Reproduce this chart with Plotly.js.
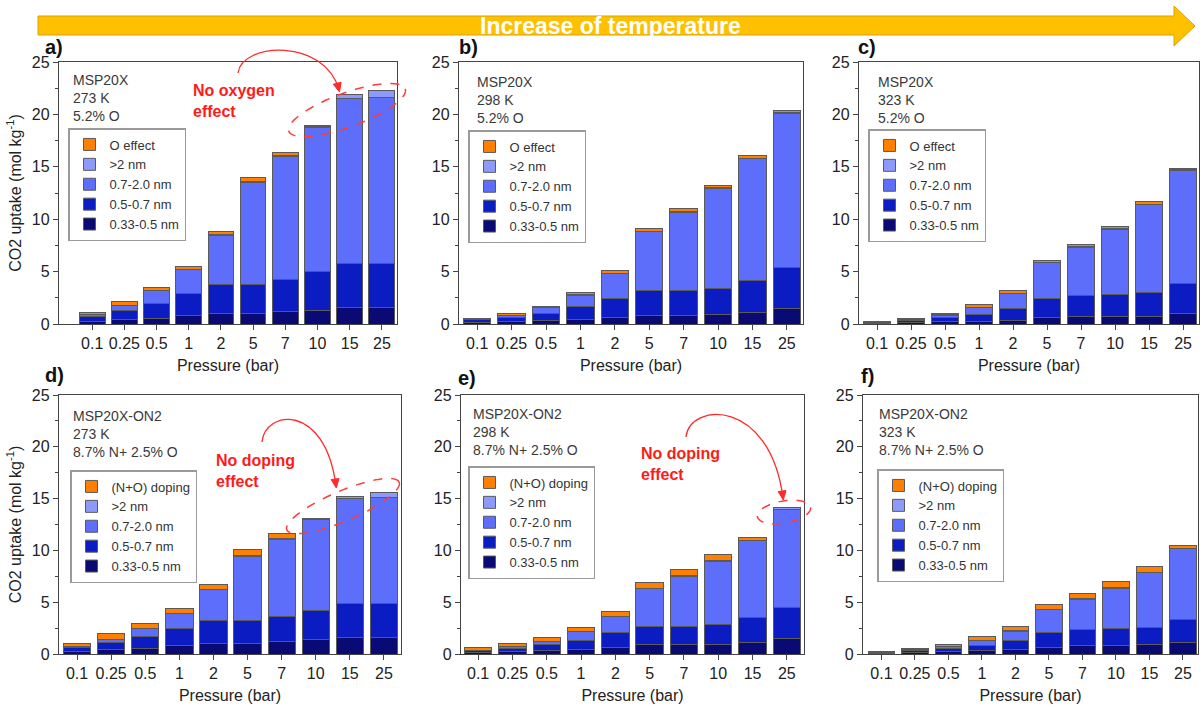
<!DOCTYPE html>
<html>
<head>
<meta charset="utf-8">
<script src="https://cdn.plot.ly/plotly-3.0.1.min.js"></script>
<style>html,body{margin:0;padding:0;background:#fff;}#chart{width:1200px;height:707px;}</style>
</head>
<body>
<div id="chart"></div>
<script>
// ---------- DATA ----------
const pressures = ['0.1','0.25','0.5','1','2','5','7','10','15','25'];
const seriesNames = ['0.33-0.5 nm','0.5-0.7 nm','0.7-2.0 nm','>2 nm'];
const effectNameTop = 'O effect';
const effectNameBottom = '(N+O) doping';

// a) MSP20X 273 K
const a033 = [0.25,0.45,0.54,0.77,0.96,0.96,1.15,1.31,1.53,1.53];
const a057 = [0.45,0.83,1.38,2.11,2.84,2.84,3.13,3.71,4.22,4.22];
const a072 = [0.20,0.48,1.25,2.30,4.64,9.75,11.67,13.75,15.80,15.85];
const aGt2 = [0.02,0.04,0.03,0.03,0.06,0.05,0.10,0.10,0.35,0.68];
const aEff = [0.17,0.31,0.28,0.29,0.29,0.37,0.29,0.06,0,0];
// b) MSP20X 298 K
const b033 = [0.12,0.26,0.32,0.45,0.64,0.83,0.83,0.90,1.09,1.44];
const b057 = [0.28,0.32,0.67,1.18,1.76,2.34,2.34,2.53,3.10,3.91];
const b072 = [0.03,0.25,0.58,1.12,2.43,5.66,7.49,9.53,11.59,14.75];
const bGt2 = [0.01,0.01,0.01,0.02,0.02,0.03,0.03,0.03,0.05,0.10];
const bEff = [0.07,0.12,0.12,0.21,0.21,0.26,0.29,0.23,0.27,0.13];
// c) MSP20X 323 K
const c033 = [0.08,0.15,0.20,0.25,0.38,0.64,0.70,0.70,0.73,0.96];
const c057 = [0.06,0.20,0.45,0.61,1.12,1.78,2.01,2.10,2.23,2.89];
const c072 = [0.02,0.08,0.20,0.73,1.37,3.41,4.61,6.24,8.41,10.80];
const cGt2 = [0.01,0.01,0.01,0.02,0.02,0.02,0.03,0.03,0.03,0.05];
const cEff = [0.05,0.07,0.16,0.21,0.26,0.20,0.26,0.23,0.26,0.17];
// d) MSP20X-ON2 273 K
const d033 = [0.20,0.39,0.55,0.78,1.03,1.03,1.20,1.39,1.62,1.62];
const d057 = [0.45,0.71,1.10,1.68,2.17,2.17,2.42,2.81,3.23,3.23];
const d072 = [0.08,0.32,0.81,1.42,2.98,6.24,7.47,8.74,10.19,10.22];
const dGt2 = [0.01,0.02,0.02,0.03,0.05,0.05,0.08,0.16,0.19,0.49];
const dEff = [0.29,0.50,0.50,0.52,0.50,0.63,0.44,0,0,0];
// e) MSP20X-ON2 298 K
const e033 = [0.12,0.20,0.32,0.45,0.64,0.87,0.87,0.90,1.09,1.51];
const e057 = [0.18,0.35,0.55,0.90,1.39,1.80,1.80,1.96,2.41,2.99];
const e072 = [0.05,0.15,0.32,0.79,1.55,3.61,4.81,6.08,7.42,9.48];
const eGt2 = [0.01,0.01,0.02,0.02,0.03,0.04,0.05,0.06,0.05,0.14];
const eEff = [0.22,0.26,0.40,0.41,0.51,0.63,0.61,0.65,0.29,0];
// f) MSP20X-ON2 323 K
const f033 = [0.06,0.12,0.22,0.32,0.42,0.64,0.80,0.80,0.90,1.09];
const f057 = [0.07,0.20,0.28,0.48,0.92,1.44,1.53,1.63,1.66,2.27];
const f072 = [0.03,0.07,0.24,0.46,0.88,2.20,2.96,3.91,5.29,6.82];
const fGt2 = [0.01,0.01,0.01,0.02,0.02,0.04,0.05,0.05,0.05,0.05];
const fEff = [0.09,0.14,0.21,0.38,0.41,0.48,0.51,0.64,0.57,0.26];

const panelLabels = ['a)','b)','c)','d)','e)','f)'];
const panelTexts = [
  'MSP20X<br>273 K<br>5.2% O',
  'MSP20X<br>298 K<br>5.2% O',
  'MSP20X<br>323 K<br>5.2% O',
  'MSP20X-ON2<br>273 K<br>8.7% N+ 2.5% O',
  'MSP20X-ON2<br>298 K<br>8.7% N+ 2.5% O',
  'MSP20X-ON2<br>323 K<br>8.7% N+ 2.5% O'
];

// ---------- STYLE / LAYOUT ----------
const W = 1200, H = 707;
const FONT = 'Liberation Sans, Arial, sans-serif';
const colors = ['#0a0a74','#0a1cc2','#5d6efa','#8e9afb','#ff8000'];
const px = x => x / W;
const py = y => 1 - y / H;

const panels = [
  {d:[a033,a057,a072,aGt2,aEff], eff:effectNameTop,    xd:[59,397],  yd:[62,324],  xr:[-1.03,9.47], leg:[68,128],  txt:[71,70],  lab:[54,47]},
  {d:[b033,b057,b072,bGt2,bEff], eff:effectNameTop,    xd:[459,803], yd:[62,324],  xr:[-0.53,9.47], leg:[468,130], txt:[475,72], lab:[468,47]},
  {d:[c033,c057,c072,cGt2,cEff], eff:effectNameTop,    xd:[859,1199],yd:[62,324],  xr:[-0.53,9.47], leg:[868,129], txt:[876,72], lab:[867,47]},
  {d:[d033,d057,d072,dGt2,dEff], eff:effectNameBottom, xd:[59,401],  yd:[395,654], xr:[-0.53,9.5],  leg:[70,470],  txt:[71,406], lab:[54,375]},
  {d:[e033,e057,e072,eGt2,eEff], eff:effectNameBottom, xd:[461,804], yd:[395,654], xr:[-0.5,9.5],   leg:[468,466], txt:[471,404],lab:[467,378]},
  {d:[f033,f057,f072,fGt2,fEff], eff:effectNameBottom, xd:[863,1198],yd:[395,654], xr:[-0.55,9.45], leg:[877,469], txt:[877,404],lab:[867,376]}
];

const traces = [];
const layout = {
  width: W, height: H,
  margin: {l:0, r:0, t:0, b:0},
  paper_bgcolor: '#fff', plot_bgcolor: '#fff',
  barmode: 'stack', bargap: 0.2,
  font: {family: FONT, color: '#222'},
  showlegend: true,
  annotations: [], shapes: []
};

panels.forEach((p, i) => {
  const n = i + 1;
  const xa = n === 1 ? 'x' : 'x' + n;
  const ya = n === 1 ? 'y' : 'y' + n;
  const legName = n === 1 ? 'legend' : 'legend' + n;
  const names = seriesNames.concat([p.eff]);
  p.d.forEach((vals, k) => {
    traces.push({
      type: 'bar', x: pressures, y: vals, name: names[k],
      xaxis: xa, yaxis: ya, legend: legName,
      marker: {color: colors[k], line: {color: '#5a5a5a', width: 1}},
      hoverinfo: 'skip'
    });
  });
  const xKey = n === 1 ? 'xaxis' : 'xaxis' + n;
  const yKey = n === 1 ? 'yaxis' : 'yaxis' + n;
  layout[xKey] = {
    domain: [px(p.xd[0]), px(p.xd[1])], anchor: ya, type: 'category',
    range: p.xr, showline: true, mirror: true, linecolor: '#444', linewidth: 1.2,
    ticks: 'outside', ticklen: 5, tickcolor: '#444', showgrid: false, zeroline: false,
    tickfont: {size: 16, family: FONT, color: '#222'},
    title: {text: 'Pressure (bar)', font: {size: 16, family: FONT, color: '#222'}, standoff: 8}
  };
  const yax = {
    domain: [py(p.yd[1]), py(p.yd[0])], anchor: xa,
    range: [0, 25], dtick: 5, showline: true, mirror: true, linecolor: '#444', linewidth: 1.2,
    ticks: 'outside', ticklen: 5, tickcolor: '#444', showgrid: false, zeroline: false,
    minor: {dtick: 2.5, ticks: 'outside', ticklen: 3, tickcolor: '#444'},
    tickfont: {size: 16, family: FONT, color: '#222'}
  };
  if (n === 1 || n === 4) {
    yax.title = {text: 'CO2 uptake (mol kg<sup>-1</sup>)', font: {size: 16, family: FONT, color: '#222'}, standoff: 6};
  }
  layout[yKey] = yax;
  layout[legName] = {
    x: px(p.leg[0]), y: py(p.leg[1]), xanchor: 'left', yanchor: 'top',
    xref: 'paper', yref: 'paper',
    traceorder: 'reversed', bgcolor: '#fff', bordercolor: '#9a9a9a', borderwidth: 1.5,
    font: {size: 13, family: FONT, color: '#333'}, itemwidth: 30, tracegroupgap: 0
  };
  layout.annotations.push({
    xref: 'paper', yref: 'paper', x: px(p.txt[0]), y: py(p.txt[1]),
    xanchor: 'left', yanchor: 'top', align: 'left', showarrow: false,
    text: panelTexts[i], font: {size: 14, family: FONT, color: '#3a3a3a'}
  });
  layout.annotations.push({
    xref: 'paper', yref: 'paper', x: px(p.lab[0]), y: py(p.lab[1]),
    xanchor: 'center', yanchor: 'middle', showarrow: false,
    text: '<b>' + panelLabels[i] + '</b>', font: {size: 20, family: FONT, color: '#111'}
  });
});

// ---------- DECORATIONS ----------
// Temperature arrow
const arrowPts = [[38,16],[1174,16],[1174,6],[1195,26],[1174,46],[1174,35],[38,35]];
layout.shapes.push({
  type: 'path', xref: 'paper', yref: 'paper',
  path: 'M' + arrowPts.map(q => px(q[0]) + ',' + py(q[1])).join('L') + 'Z',
  fillcolor: '#FFC000', line: {color: '#D9A300', width: 1}, layer: 'above'
});
layout.annotations.push({
  xref: 'paper', yref: 'paper', x: px(610), y: py(26), xanchor: 'center', yanchor: 'middle',
  showarrow: false, text: '<b>Increase of temperature</b>',
  font: {size: 23, family: FONT, color: '#ffffff'}
});

// Red notes
const notes = [
  {t: 'No oxygen<br>effect', x: 191, y: 80},
  {t: 'No doping<br>effect', x: 214, y: 450},
  {t: 'No doping<br>effect', x: 639, y: 443}
];
notes.forEach(nt => layout.annotations.push({
  xref: 'paper', yref: 'paper', x: px(nt.x), y: py(nt.y), xanchor: 'left', yanchor: 'top',
  align: 'left', showarrow: false, text: '<b>' + nt.t + '</b>',
  font: {size: 16, family: FONT, color: '#ff1a1a'}
}));

// Curved red arrows
const curves = [
  [[238,73],[242,42],[325,38],[339,90]],
  [[262,442],[265,410],[325,402],[336,486]],
  [[686,437],[690,402],[770,398],[783,498]]
];
curves.forEach(c => {
  const P = c.map(q => px(q[0]) + ',' + py(q[1]));
  layout.shapes.push({
    type: 'path', xref: 'paper', yref: 'paper',
    path: 'M' + P[0] + ' C' + P[1] + ' ' + P[2] + ' ' + P[3],
    line: {color: '#ff2a2a', width: 1.3}, layer: 'above'
  });
  const dx = c[3][0] - c[2][0], dy = c[3][1] - c[2][1];
  const L = Math.hypot(dx, dy), ux = dx / L, uy = dy / L;
  const tip = [c[3][0] + ux * 2, c[3][1] + uy * 2];
  const base = [tip[0] - ux * 9, tip[1] - uy * 9];
  const w1 = [base[0] - uy * 4, base[1] + ux * 4];
  const w2 = [base[0] + uy * 4, base[1] - ux * 4];
  layout.shapes.push({
    type: 'path', xref: 'paper', yref: 'paper',
    path: 'M' + [tip, w1, w2].map(q => px(q[0]) + ',' + py(q[1])).join('L') + 'Z',
    fillcolor: '#ff2a2a', line: {color: '#ff2a2a', width: 1}, layer: 'above'
  });
});

// Dashed ellipses
const ellipses = [
  {cx: 347, cy: 110, a: 62, b: 17, ang: -20},
  {cx: 343, cy: 506, a: 61, b: 15, ang: -23},
  {cx: 784, cy: 512, a: 27, b: 11, ang: -10}
];
ellipses.forEach(e => {
  const r = e.ang * Math.PI / 180, pts = [];
  for (let k = 0; k <= 72; k++) {
    const t = k / 72 * 2 * Math.PI;
    const ex = e.a * Math.cos(t), ey = e.b * Math.sin(t);
    pts.push([e.cx + ex * Math.cos(r) - ey * Math.sin(r), e.cy + ex * Math.sin(r) + ey * Math.cos(r)]);
  }
  layout.shapes.push({
    type: 'path', xref: 'paper', yref: 'paper',
    path: 'M' + pts.map(q => px(q[0]) + ',' + py(q[1])).join('L') + 'Z',
    line: {color: '#ff3b3b', width: 1.5, dash: 'dash'}, layer: 'above'
  });
});

Plotly.newPlot('chart', traces, layout, {displayModeBar: false, staticPlot: true});
</script>
</body>
</html>
